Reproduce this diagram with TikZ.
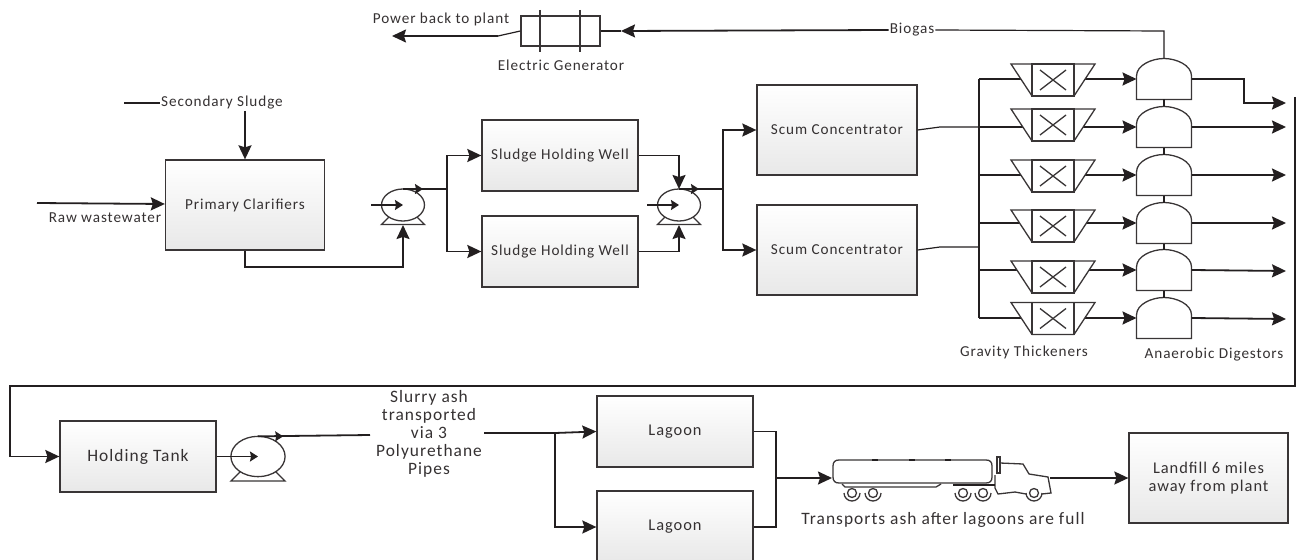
\documentclass[tikz,border=0pt]{standalone}
\usepackage{fontspec}
\setmainfont{Carlito}[LetterSpace=6]
\usetikzlibrary{arrows.meta}
\definecolor{ink}{HTML}{231F20}
\tikzset{
  every node/.style={font=\fontsize{15.2}{18}\selectfont, text=ink!92, align=center},
  bigtext/.style={font=\fontsize{17.4}{18}\selectfont},
  midtext/.style={font=\fontsize{16.4}{18}\selectfont},
  flow/.style={draw=ink, line width=1.8pt},
  flowarrow/.style={flow, -{Stealth[length=14pt,width=13pt,inset=2pt]}},
  thinline/.style={draw=ink, line width=1.2pt},
  tinyarrow/.style={thinline, -{Stealth[length=8pt,width=10pt,inset=1pt]}},
  outline/.style={draw=ink!90, line width=1.3pt},
  tankbox/.style={outline, top color=white, bottom color=black!9, inner sep=0pt},
  label/.style={inner sep=1pt},
  thickener/.pic={
    \draw[outline, fill=white] (-42,-16)--(42,-16)--(21,16)--(-21,16)--cycle;
    \draw[outline] (-21,-16) rectangle (21,16);
    \draw[outline] (-13,-10)--(13,10);
    \draw[outline] (-13,10)--(13,-10);
  },
  digester/.pic={
    \draw[outline, fill=white] (-27.5,20.5)--(27.5,20.5)--(27.5,-3) .. controls (27.5,-14) and (12,-20.5) .. (0,-20.5) .. controls (-12,-20.5) and (-27.5,-14) .. (-27.5,-3)--cycle;
    \coordinate (-w) at (-27.5,0);
    \coordinate (-e) at (27.5,0);
    \coordinate (-n) at (0,-20.5);
    \coordinate (-s) at (0,20.5);
  },
  pump/.pic={
    \draw[outline] (-14,12)--(-21.5,19.5)--(21.5,19.5)--(14,12);
    \draw[outline, fill=white] (0,0) ellipse [x radius=21.5, y radius=16];
    \coordinate (-c) at (0,0);
    \coordinate (-top) at (0,-16);
    \coordinate (-tip) at (20,-16);
    \coordinate (-neck) at (14,-16);
    \coordinate (-bot) at (0,20);
  },
}
\begin{document}
\begin{tikzpicture}[x=1pt,y=-1pt]
\useasboundingbox (0,0) rectangle (1297,559);
\clip (0,0) rectangle (1297,559);
% top row
\node[label] (power) at (441,19) {Power back to plant};
\node[outline, minimum width=79pt, minimum height=30pt, inner sep=0pt] (gen) at (560.5,31) {};
\draw[outline] (540,10)--(540,52);
\draw[outline] (580,10)--(580,52);
\node[label] (genlabel) at (561,65) {Electric Generator};
\node[label, fill=white] (biogas) at (912,30) {Biogas};
\coordinate (biotip) at (621,31);
\coordinate (powerbend) at (498,36);
\coordinate (powerend) at (392,36);
\draw[thinline] (gen.west) -- (powerbend);
\draw[flowarrow] (powerbend) -- (powerend);
\draw[thinline] (gen.east) -- (biotip);
% primary side
\node[tankbox, minimum width=159pt, minimum height=90pt] (clarifier) at (245,205) {Primary Clarifiers};
\node[label] (secondary) at (222,103) {Secondary Sludge};
\coordinate (secstart) at (124,103);
\coordinate (secdrop) at (245,111);
\draw[thinline] (secstart) -- (secondary.west);
\draw[flowarrow] (secdrop) -- (clarifier.north);
\coordinate (rawstart) at (37,203);
\draw[flowarrow] (rawstart) -- (clarifier.west |- 0,204);
\node[label] (raw) at (105,218) {Raw wastewater};
% wells
\node[tankbox, minimum width=156pt, minimum height=71pt] (well1) at (560,155.5) {Sludge Holding Well};
\node[tankbox, minimum width=156pt, minimum height=71pt] (well2) at (560,251.5) {Sludge Holding Well};
\pic (pump1) at (403,205) {pump};
\pic (pump2) at (679,205) {pump};
\coordinate (in1) at (371,205);
\coordinate (in2) at (647,205);
\draw[tinyarrow] (in1) -- (pump1-c);
\draw[tinyarrow] (in2) -- (pump2-c);
\draw[flowarrow] (clarifier.south) |- (300,267) -| (pump1-bot);
\draw[tinyarrow] (pump1-top) -- (pump1-tip);
\draw[tinyarrow] (pump2-top) -- (pump2-tip);
\coordinate (split1) at (447,189);
\coordinate (split2) at (723,189);
\draw[flow] (pump1-neck) -- (split1);
\draw[flow] (pump2-neck) -- (split2);
\draw[flowarrow] (split1) |- (well1.west);
\draw[flowarrow] (split1) |- (well2.west);
\draw[flowarrow] (well1.east) -| (pump2-top);
\draw[flowarrow] (well2.east) -| (pump2-bot);
% concentrators
\node[tankbox, minimum width=160pt, minimum height=90pt] (scum1) at (837,130) {Scum Concentrator};
\node[tankbox, minimum width=160pt, minimum height=90pt] (scum2) at (837,250) {Scum Concentrator};
\draw[flowarrow] (split2) |- (scum1.west);
\draw[flowarrow] (split2) |- (scum2.west);
% digesters and thickeners
\coordinate (bus1) at (979,79);
\coordinate (bus2) at (979,127);
\coordinate (bus3) at (979,175);
\coordinate (bus4) at (979,223);
\coordinate (bus5) at (979,270);
\coordinate (bus6) at (979,318);
\coordinate (bus7) at (979,247);
\coordinate (bend1) at (940,127);
\coordinate (bend2) at (940,247);
\draw[thinline] (scum1.east) -- (bend1) -- (bus2);
\draw[thinline] (scum2.east) -- (bend2) -- (bus7);
\draw[flow] (bus1) -- (bus6);
\pic (dg1) at (1164,79) {digester};
\pic (dg2) at (1164,127) {digester};
\pic (dg3) at (1164,175) {digester};
\pic (dg4) at (1164,223) {digester};
\pic (dg5) at (1164,270) {digester};
\pic (dg6) at (1164,318) {digester};
\coordinate (th1) at (1053,79);
\coordinate (th2) at (1053,127);
\coordinate (th3) at (1053,175);
\coordinate (th4) at (1053,223);
\coordinate (th5) at (1053,270);
\coordinate (th6) at (1053,318);
\draw[flow] (bus1) -- (th1);
\draw[flow] (bus2) -- (th2);
\draw[flow] (bus3) -- (th3);
\draw[flow] (bus4) -- (th4);
\draw[flow] (bus5) -- (th5);
\draw[flow] (bus6) -- (th6);
\draw[flowarrow] (th1) -- (dg1-w);
\draw[flowarrow] (th2) -- (dg2-w);
\draw[flowarrow] (th3) -- (dg3-w);
\draw[flowarrow] (th4) -- (dg4-w);
\draw[flowarrow] (th5) -- (dg5-w);
\draw[flowarrow] (th6) -- (dg6-w);
\pic at (1053,80) {thickener};
\pic at (1053,125) {thickener};
\pic at (1053,176) {thickener};
\pic at (1053,226) {thickener};
\pic at (1053,277) {thickener};
\pic at (1053,318.5) {thickener};
\draw[thinline] (dg1-s) -- (dg2-n);
\draw[thinline] (dg2-s) -- (dg3-n);
\draw[thinline] (dg3-s) -- (dg4-n);
\draw[thinline] (dg4-s) -- (dg5-n);
\draw[thinline] (dg5-s) -- (dg6-n);
\node[label] (thicklabel) at (1024,352) {Gravity Thickeners};
\node[label] (diglabel) at (1214,355) {Anaerobic Digestors};
% biogas and outlets
\coordinate (biotop) at (1164,31);
\draw[thinline] (dg1-n) -- (biotop) -- (biogas.east);
\draw[flowarrow] (biogas.west) -- (biotip);
\coordinate (out1) at (1286,103);
\coordinate (out2) at (1286,127);
\coordinate (out3) at (1286,175);
\coordinate (out4) at (1286,223);
\coordinate (out5) at (1286,271);
\coordinate (out6) at (1286,319);
\coordinate (kink) at (1244,79);
\draw[flowarrow] (dg1-e) -- (kink) |- (out1);
\draw[flowarrow] (dg2-e) -- (out2);
\draw[flowarrow] (dg3-e) -- (out3);
\draw[flowarrow] (dg4-e) -- (out4);
\draw[flowarrow] (dg5-e) -- (out5);
\draw[flowarrow] (dg6-e) -- (out6);
% return line
\node[tankbox, bigtext, minimum width=156pt, minimum height=71pt] (holding) at (138,456.5) {Holding Tank};
\coordinate (rtn1) at (1295,97);
\coordinate (rtn2) at (1295,386);
\coordinate (rtn3) at (10,386);
\draw[flowarrow] (rtn1) -- (rtn2) -- (rtn3) |- (holding.west);
% pump to lagoons
\pic[scale=1.26] (pump3) at (258,456.5) {pump};
\draw[tinyarrow] (holding.east) -- (pump3-c);
\node[label, bigtext] (slurry) at (429,434) {Slurry ash\\transported\\via 3\\Polyurethane\\Pipes};
\coordinate (slurryin) at (370,435);
\coordinate (slurryout) at (484,433);
\draw[flow] (pump3-top) -- (slurryin);
\draw[tinyarrow] (pump3-top) -- (pump3-tip);
\node[tankbox, midtext, minimum width=156pt, minimum height=71pt] (lagoon1) at (675,431.5) {Lagoon};
\node[tankbox, midtext, minimum width=156pt, minimum height=72pt] (lagoon2) at (675,527) {Lagoon};
\coordinate (split3) at (555,433);
\draw[flow] (slurryout) -- (split3);
\draw[flowarrow] (split3) -- (lagoon1.west);
\draw[flowarrow] (split3) |- (lagoon2.west);
\coordinate (join) at (776,478);
\draw[flow] (lagoon1.east) -| (join);
\draw[flow] (lagoon2.east) -| (join);
% truck
\coordinate (truckin) at (832,478);
\coordinate (truckout) at (1050,478);
\draw[flowarrow] (join) -- (truckin);
\draw[outline] (833,466) .. controls (833,462) and (835,460) .. (839,460) -- (986,460) .. controls (990,460) and (992,462) .. (992,466) -- (992,477) .. controls (992,481) and (990,483) .. (986,483) -- (839,483) .. controls (835,483) and (833,481) .. (833,477) -- cycle;
\draw[flow] (872,460)--(878,460);
\draw[flow] (909,460)--(915,460);
\draw[flow] (945,460)--(951,460);
\draw[outline] (997,457) rectangle (1000,473);
\draw[outline] (1000,463)--(1023,464)--(1029,474)--(1048,477)--(1051,493)--(1042,494);
\draw[outline] (1026,494)--(1015,492)--(998,494)--(995,488)--(995,475);
\draw[flow] (953,485)--(995,485);
\draw[outline] (842,484)--(845,487)--(936,487)--(941,484);
\foreach \wx in {852,873,963,983,1034} {
  \draw[outline] (\wx,493) circle [radius=4.5];
  \draw[outline] (\wx-8,493) arc [start angle=180, end angle=0, radius=8];
}
\node[label, bigtext] (trucklabel) at (943,520) {Transports ash after lagoons are full};
\node[tankbox, midtext, minimum width=159pt, minimum height=90pt] (landfill) at (1208.5,478) {Landfill 6 miles\\away from plant};
\draw[flowarrow] (truckout) -- (landfill.west);
\end{tikzpicture}
\end{document}
